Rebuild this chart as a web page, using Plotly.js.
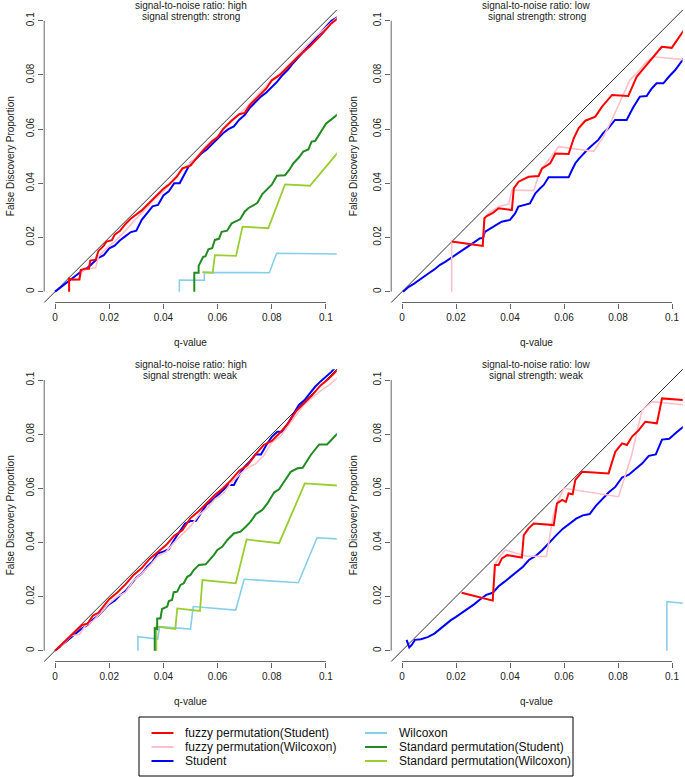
<!DOCTYPE html>
<html>
<head>
<meta charset="utf-8">
<script src="https://cdn.plot.ly/plotly-3.0.1.min.js"></script>
<style>html,body{margin:0;padding:0;background:#fff;}#chart{width:685px;height:777px;}</style>
</head>
<body>
<div id="chart"></div>
<script>
// ---------- data ----------
const seriesNames = ["fuzzy permutation(Student)", "fuzzy permutation(Wilcoxon)", "Student",
  "Wilcoxon", "Standard permutation(Student)", "Standard permutation(Wilcoxon)"];
const panelTitles1 = ["signal-to-noise ratio: high", "signal-to-noise ratio: low", "signal-to-noise ratio: high", "signal-to-noise ratio: low"];
const panelTitles2 = ["signal strength: strong", "signal strength: strong", "signal strength: weak", "signal strength: weak"];
const xTickVals = [0, 0.02, 0.04, 0.06, 0.08, 0.1];
const xTickText = ["0", "0.02", "0.04", "0.06", "0.08", "0.1"];
const yTickVals = [0, 0.02, 0.04, 0.06, 0.08, 0.1];
const yTickText = ["0", "0.02", "0.04", "0.06", "0.08", "0.1"];
const xTitle = "q-value";
const yTitle = "False Discovery Proportion";

// Panel 1: high SNR, strong signal
const p1RedX = [0.0052,0.0052,0.0062,0.0090,0.0095,0.0110,0.0125,0.0130,0.0150,0.0160,0.0180,0.0190,0.0210,0.0220,0.0240,0.0260,0.0280,0.0300,0.0320,0.0340,0.0360,0.0380,0.0400,0.0420,0.0450,0.0470,0.0500,0.0520,0.0550,0.0580,0.0600,0.0620,0.0650,0.0680,0.0700,0.0720,0.0750,0.0780,0.0800,0.0830,0.0860,0.0900,0.0940,0.0980,0.1020,0.1045];
const p1RedY = [0.0000,0.0048,0.0045,0.0045,0.0080,0.0085,0.0085,0.0115,0.0118,0.0150,0.0170,0.0185,0.0190,0.0210,0.0225,0.0250,0.0270,0.0285,0.0300,0.0320,0.0340,0.0360,0.0380,0.0395,0.0425,0.0455,0.0465,0.0490,0.0525,0.0555,0.0570,0.0600,0.0630,0.0655,0.0660,0.0690,0.0720,0.0750,0.0780,0.0800,0.0830,0.0870,0.0905,0.0945,0.0990,0.1010];
const p1PinkX = [0.0060,0.0090,0.0100,0.0120,0.0150,0.0160,0.0190,0.0220,0.0250,0.0280,0.0300,0.0330,0.0360,0.0400,0.0430,0.0460,0.0500,0.0530,0.0560,0.0600,0.0640,0.0680,0.0720,0.0760,0.0800,0.0840,0.0880,0.0920,0.0960,0.1000,0.1045];
const p1PinkY = [0.0040,0.0045,0.0075,0.0085,0.0088,0.0130,0.0160,0.0185,0.0215,0.0250,0.0270,0.0300,0.0335,0.0370,0.0405,0.0440,0.0475,0.0505,0.0540,0.0575,0.0615,0.0655,0.0695,0.0740,0.0780,0.0815,0.0855,0.0900,0.0940,0.0975,0.1015];
const p1BlueX = [0,0.002,0.004,0.006,0.008,0.010,0.012,0.014,0.016,0.018,0.020,0.022,0.024,0.026,0.028,0.030,0.032,0.034,0.036,0.038,0.040,0.042,0.044,0.046,0.048,0.050,0.052,0.054,0.056,0.058,0.060,0.062,0.064,0.066,0.068,0.070,0.072,0.074,0.076,0.078,0.080,0.082,0.084,0.086,0.088,0.090,0.092,0.094,0.096,0.098,0.100,0.102,0.1045];
const p1BlueY = [0,0.0016,0.0032,0.0046,0.0062,0.0077,0.0088,0.0108,0.0125,0.0135,0.0160,0.0170,0.0190,0.0205,0.0220,0.0225,0.0265,0.0290,0.0315,0.0320,0.0355,0.0370,0.0400,0.0400,0.0440,0.0475,0.0490,0.0510,0.0525,0.0545,0.0565,0.0585,0.0600,0.0610,0.0635,0.0652,0.0680,0.0700,0.0720,0.0735,0.0754,0.0775,0.0800,0.0820,0.0845,0.0867,0.0890,0.0915,0.0935,0.0955,0.0978,0.1000,0.1015];
const p1CyanX = [0.0459,0.0459,0.0551,0.0551,0.0791,0.0818,0.1045];
const p1CyanY = [0,0.0043,0.0042,0.0071,0.0070,0.0142,0.0139];
const p1GreenX = [0.0514,0.0514,0.0530,0.0530,0.0547,0.0555,0.0566,0.0580,0.0590,0.0605,0.0615,0.0635,0.0652,0.0670,0.0683,0.0700,0.0713,0.0735,0.0747,0.0765,0.0781,0.0800,0.0819,0.0849,0.0865,0.0880,0.0900,0.0916,0.0935,0.0947,0.0960,0.0980,0.1000,0.1045];
const p1GreenY = [0,0.0070,0.0070,0.0095,0.0129,0.0130,0.0156,0.0160,0.0191,0.0195,0.0221,0.0225,0.0252,0.0262,0.0267,0.0295,0.0308,0.0320,0.0328,0.0360,0.0375,0.0395,0.0428,0.0430,0.0450,0.0474,0.0495,0.0517,0.0525,0.0554,0.0556,0.0590,0.0620,0.0656];
const p1LimeX = [0.0544,0.0582,0.0590,0.0668,0.0692,0.0787,0.0849,0.0941,0.1045];
const p1LimeY = [0.0072,0.0070,0.0135,0.0132,0.0240,0.0234,0.0396,0.0391,0.0515];

// Panel 2: low SNR, strong signal
const p2RedX = [0.0184,0.0299,0.0305,0.0314,0.0338,0.0358,0.0407,0.0414,0.0432,0.0469,0.0506,0.0519,0.0549,0.0568,0.0617,0.0636,0.0654,0.0679,0.0716,0.0741,0.0778,0.0838,0.0869,0.0925,0.0962,0.0999,0.1045];
const p2RedY = [0.0185,0.0169,0.0271,0.0279,0.0292,0.0308,0.0301,0.0381,0.0406,0.0424,0.0427,0.0455,0.0474,0.0510,0.0508,0.0566,0.0603,0.0631,0.0646,0.0683,0.0726,0.0722,0.0793,0.0861,0.0904,0.0900,0.0966];
const p2PinkX = [0.0184,0.0184,0.0299,0.0307,0.0320,0.0358,0.0395,0.0407,0.0488,0.0512,0.0543,0.0580,0.0710,0.0746,0.0780,0.0815,0.0844,0.0869,0.0906,0.0931,0.1045];
const p2PinkY = [0,0.0185,0.0169,0.0271,0.0289,0.0314,0.0323,0.0375,0.0373,0.0449,0.0486,0.0535,0.0518,0.0572,0.0640,0.0720,0.0781,0.0806,0.0849,0.0867,0.0856];
const p2BlueX = [0.0004,0.0025,0.0045,0.0062,0.0080,0.0099,0.0120,0.0141,0.0160,0.0178,0.0196,0.0215,0.0234,0.0252,0.0270,0.0289,0.0300,0.0307,0.0322,0.0338,0.0354,0.0369,0.0385,0.0400,0.0419,0.0431,0.0474,0.0494,0.0510,0.0525,0.0543,0.0617,0.0630,0.0642,0.0655,0.0667,0.0683,0.0698,0.0712,0.0727,0.0745,0.0764,0.0789,0.0832,0.0856,0.0881,0.0906,0.0925,0.0943,0.0968,0.0990,0.1012,0.1045];
const p2BlueY = [0,0.0018,0.0030,0.0043,0.0055,0.0068,0.0082,0.0099,0.0110,0.0123,0.0136,0.0148,0.0160,0.0172,0.0185,0.0197,0.0197,0.0221,0.0230,0.0240,0.0250,0.0258,0.0262,0.0265,0.0289,0.0314,0.0326,0.0363,0.0380,0.0394,0.0422,0.0422,0.0450,0.0474,0.0490,0.0504,0.0520,0.0535,0.0548,0.0560,0.0585,0.0603,0.0634,0.0634,0.0680,0.0720,0.0722,0.0750,0.0769,0.0769,0.0795,0.0818,0.0863];

// Panel 3: high SNR, weak signal
const p3RedX = [0,0.004,0.008,0.010,0.012,0.014,0.016,0.018,0.020,0.023,0.026,0.029,0.032,0.035,0.038,0.041,0.044,0.047,0.050,0.053,0.056,0.059,0.062,0.065,0.068,0.071,0.074,0.077,0.080,0.083,0.086,0.089,0.092,0.095,0.098,0.101,0.1045];
const p3RedY = [0,0.0038,0.0075,0.0095,0.0100,0.0130,0.0140,0.0165,0.0190,0.0215,0.0245,0.0280,0.0305,0.0340,0.0365,0.0390,0.0425,0.0445,0.0490,0.0515,0.0545,0.0575,0.0600,0.0630,0.0665,0.0685,0.0725,0.0760,0.0775,0.0805,0.0840,0.0885,0.0915,0.0945,0.0980,0.1005,0.1040];
const p3PinkX = [0.002,0.006,0.009,0.011,0.014,0.017,0.020,0.023,0.026,0.029,0.032,0.035,0.038,0.041,0.044,0.047,0.050,0.053,0.056,0.059,0.062,0.065,0.068,0.071,0.074,0.077,0.080,0.083,0.086,0.089,0.092,0.095,0.098,0.101,0.1045];
const p3PinkY = [0.0015,0.0055,0.0060,0.0090,0.0110,0.0140,0.0175,0.0200,0.0215,0.0260,0.0285,0.0315,0.0350,0.0365,0.0400,0.0430,0.0460,0.0500,0.0525,0.0560,0.0580,0.0620,0.0650,0.0675,0.0690,0.0720,0.0770,0.0790,0.0830,0.0870,0.0910,0.0935,0.0960,0.0980,0.1010];
const p3BlueX = [0,0.004,0.008,0.010,0.012,0.014,0.016,0.018,0.020,0.022,0.024,0.026,0.028,0.030,0.032,0.034,0.036,0.038,0.040,0.042,0.044,0.046,0.048,0.050,0.052,0.054,0.056,0.058,0.060,0.062,0.064,0.066,0.068,0.070,0.072,0.074,0.076,0.078,0.080,0.082,0.084,0.086,0.088,0.090,0.092,0.094,0.096,0.098,0.100,0.102,0.1045];
const p3BlueY = [0,0.0032,0.0065,0.0083,0.0095,0.0115,0.0130,0.0150,0.0172,0.0185,0.0205,0.0220,0.0245,0.0270,0.0285,0.0310,0.0330,0.0360,0.0366,0.0375,0.0410,0.0440,0.0470,0.0479,0.0480,0.0510,0.0540,0.0555,0.0575,0.0595,0.0612,0.0612,0.0650,0.0680,0.0700,0.0725,0.0725,0.0760,0.0790,0.0809,0.0809,0.0840,0.0875,0.0908,0.0925,0.0950,0.0975,0.0995,0.1012,0.1030,0.1058];
const p3CyanX = [0.0306,0.0306,0.0379,0.0386,0.0500,0.0510,0.0667,0.0698,0.0898,0.0967,0.1045];
const p3CyanY = [0,0.0052,0.0043,0.0089,0.0080,0.0163,0.0150,0.0264,0.0251,0.0417,0.0413];
const p3GreenX = [0.0368,0.0368,0.0377,0.0377,0.0389,0.0395,0.0414,0.0420,0.0432,0.0438,0.0451,0.0463,0.0475,0.0488,0.0500,0.0512,0.0531,0.0556,0.0586,0.0599,0.0617,0.0636,0.0660,0.0685,0.0704,0.0722,0.0741,0.0765,0.0784,0.0809,0.0827,0.0846,0.0870,0.0895,0.0914,0.0944,0.0975,0.1004,0.1045];
const p3GreenY = [0,0.0083,0.0080,0.0119,0.0119,0.0154,0.0163,0.0183,0.0187,0.0216,0.0218,0.0243,0.0249,0.0273,0.0280,0.0298,0.0317,0.0319,0.0353,0.0372,0.0384,0.0409,0.0433,0.0440,0.0458,0.0477,0.0504,0.0520,0.0544,0.0585,0.0596,0.0627,0.0661,0.0674,0.0676,0.0723,0.0762,0.0762,0.0805];
const p3LimeX = [0.0374,0.0374,0.0444,0.0451,0.0535,0.0544,0.0667,0.0707,0.0827,0.0922,0.1045];
const p3LimeY = [0,0.0089,0.0080,0.0156,0.0147,0.0261,0.0249,0.0411,0.0397,0.0618,0.0610];

// Panel 4: low SNR, weak signal
const p4RedX = [0.0221,0.0336,0.0344,0.0358,0.0370,0.0389,0.0444,0.0451,0.0469,0.0488,0.0562,0.0574,0.0593,0.0607,0.0617,0.0632,0.0642,0.0667,0.0765,0.0790,0.0815,0.0833,0.0852,0.0877,0.0901,0.0944,0.0963,0.1045];
const p4RedY = [0.0214,0.0185,0.0317,0.0317,0.0341,0.0353,0.0344,0.0427,0.0452,0.0470,0.0464,0.0544,0.0557,0.0550,0.0581,0.0578,0.0631,0.0661,0.0655,0.0735,0.0766,0.0760,0.0791,0.0815,0.0846,0.0840,0.0932,0.0926];
const p4PinkX = [0.0221,0.0336,0.0346,0.0360,0.0383,0.0457,0.0535,0.0560,0.0580,0.0600,0.0802,0.0850,0.0889,0.0926,0.1045];
const p4PinkY = [0.0214,0.0185,0.0320,0.0345,0.0372,0.0350,0.0348,0.0500,0.0560,0.0600,0.0569,0.0720,0.0889,0.0920,0.0908];
const p4BlueX = [0.0017,0.0022,0.0027,0.0036,0.0048,0.0070,0.0095,0.0120,0.0140,0.0160,0.0180,0.0200,0.0222,0.0245,0.0268,0.0290,0.0312,0.0336,0.0358,0.0380,0.0402,0.0425,0.0448,0.0470,0.0495,0.0520,0.0545,0.0570,0.0595,0.0620,0.0645,0.0670,0.0695,0.0718,0.0742,0.0766,0.0790,0.0815,0.0840,0.0865,0.0890,0.0914,0.0940,0.0963,0.0990,0.1015,0.1045];
const p4BlueY = [0.0040,0.0025,0.0012,0.0021,0.0040,0.0042,0.0050,0.0063,0.0080,0.0098,0.0112,0.0125,0.0140,0.0155,0.0172,0.0190,0.0206,0.0214,0.0238,0.0255,0.0272,0.0290,0.0310,0.0335,0.0350,0.0372,0.0400,0.0425,0.0450,0.0470,0.0488,0.0500,0.0505,0.0535,0.0562,0.0585,0.0605,0.0640,0.0650,0.0670,0.0692,0.0720,0.0725,0.0780,0.0783,0.0805,0.0830];
const p4CyanX = [0.0981,0.0981,0.1045];
const p4CyanY = [0,0.0181,0.0175];

// ---------- styling ----------
const colors = {red: "#FF0000", pink: "#FFC0CB", blue: "#0000FF", cyan: "#87CEEB", green: "#228B22", lime: "#9ACD32"};
const widths = {red: 2, pink: 1.6, blue: 2, cyan: 1.6, green: 2, lime: 1.8};
const FONT = "Liberation Sans, Arial, Helvetica, sans-serif";

const panels = [
  {ax: "", series: {cyan: [p1CyanX, p1CyanY], lime: [p1LimeX, p1LimeY], green: [p1GreenX, p1GreenY], blue: [p1BlueX, p1BlueY], pink: [p1PinkX, p1PinkY], red: [p1RedX, p1RedY]}},
  {ax: "2", series: {blue: [p2BlueX, p2BlueY], pink: [p2PinkX, p2PinkY], red: [p2RedX, p2RedY]}},
  {ax: "3", series: {cyan: [p3CyanX, p3CyanY], lime: [p3LimeX, p3LimeY], green: [p3GreenX, p3GreenY], blue: [p3BlueX, p3BlueY], pink: [p3PinkX, p3PinkY], red: [p3RedX, p3RedY]}},
  {ax: "4", series: {cyan: [p4CyanX, p4CyanY], blue: [p4BlueX, p4BlueY], pink: [p4PinkX, p4PinkY], red: [p4RedX, p4RedY]}}
];

const W = 685, H = 777;
const colDom = [[44.2 / W, 336.8 / W], [391.2 / W, 682.8 / W]];
const rowDom = [[1 - 302.5 / H, 1 - 9.9 / H], [1 - 661.5 / H, 1 - 369.2 / H]];
const yTitleX = [10, 353];
const range = [-0.004, 0.104];

const traces = [];
const layout = {
  width: W, height: H,
  margin: {l: 0, r: 0, t: 0, b: 0},
  paper_bgcolor: "#ffffff", plot_bgcolor: "#ffffff",
  showlegend: false,
  font: {family: FONT, color: "#222", size: 10},
  shapes: [], annotations: []
};

panels.forEach((p, i) => {
  const col = i % 2, row = Math.floor(i / 2);
  const xa = "x" + p.ax, ya = "y" + p.ax;
  Object.keys(p.series).forEach(k => {
    traces.push({
      type: "scatter", mode: "lines",
      x: p.series[k][0], y: p.series[k][1],
      xaxis: xa, yaxis: ya,
      line: {color: colors[k], width: widths[k]},
      hoverinfo: "skip"
    });
  });
  const axCommon = {
    range: range, showgrid: false, zeroline: false, showline: false,
    ticks: "outside", ticklen: 5, tickwidth: 1, tickcolor: "#666",
    tickfont: {family: FONT, size: 10, color: "#222"}, fixedrange: true
  };
  layout["xaxis" + p.ax] = Object.assign({}, axCommon, {
    domain: colDom[col], anchor: ya, tickvals: xTickVals, ticktext: xTickText
  });
  layout["yaxis" + p.ax] = Object.assign({}, axCommon, {
    domain: rowDom[row], anchor: xa, tickvals: yTickVals, ticktext: yTickText, tickangle: -90
  });
  // diagonal reference line (y = x)
  layout.shapes.push({type: "line", xref: xa + " domain", yref: ya + " domain", x0: 0, y0: 0, x1: 1, y1: 1,
    line: {color: "#333", width: 1}, layer: "below"});
  // R-style axis lines spanning first to last tick
  layout.shapes.push({type: "line", xref: xa, yref: ya + " domain", x0: xTickVals[0], x1: xTickVals[xTickVals.length - 1], y0: 0, y1: 0,
    line: {color: "#666", width: 1}});
  layout.shapes.push({type: "line", xref: xa + " domain", yref: ya, x0: 0, x1: 0, y0: yTickVals[0], y1: yTickVals[yTickVals.length - 1],
    line: {color: "#666", width: 1}});
  // titles
  const cx = (colDom[col][0] + colDom[col][1]) / 2;
  const topPx = row === 0 ? 9.9 : 369.2;
  const botPx = row === 0 ? 302.5 : 661.5;
  layout.annotations.push({text: panelTitles1[i], xref: "paper", yref: "paper", x: cx, y: 1 - (topPx - 4.3) / H,
    xanchor: "center", yanchor: "middle", showarrow: false, font: {size: 10, color: "#222"}});
  layout.annotations.push({text: panelTitles2[i], xref: "paper", yref: "paper", x: cx, y: 1 - (topPx + 6.3) / H,
    xanchor: "center", yanchor: "middle", showarrow: false, font: {size: 10, color: "#222"}});
  layout.annotations.push({text: xTitle, xref: "paper", yref: "paper", x: cx, y: 1 - (botPx + 39.5) / H,
    xanchor: "center", yanchor: "middle", showarrow: false, font: {size: 10, color: "#222"}});
  layout.annotations.push({text: yTitle, xref: "paper", yref: "paper", x: yTitleX[col] / W,
    y: (rowDom[row][0] + rowDom[row][1]) / 2, textangle: -90,
    xanchor: "center", yanchor: "middle", showarrow: false, font: {size: 10, color: "#222"}});
});

// legend (drawn in a box, two columns, R-style)
const legendOrder = [["red", 0], ["pink", 1], ["blue", 2], ["cyan", 3], ["green", 4], ["lime", 5]];
layout.shapes.push({type: "rect", xref: "paper", yref: "paper", x0: 139 / W, x1: 573 / W, y0: 1 - 776 / H, y1: 1 - 717 / H,
  line: {color: "#000", width: 1}, fillcolor: "rgba(0,0,0,0)"});
const legColX = [[151.5, 173.5, 183], [365, 387, 397]];
const legRowY = [733, 747, 761];
legendOrder.forEach(([k, idx]) => {
  const c = Math.floor(idx / 3), r = idx % 3;
  layout.shapes.push({type: "line", xref: "paper", yref: "paper",
    x0: legColX[c][0] / W, x1: legColX[c][1] / W, y0: 1 - legRowY[r] / H, y1: 1 - legRowY[r] / H,
    line: {color: colors[k], width: 2}});
  layout.annotations.push({text: seriesNames[idx], xref: "paper", yref: "paper",
    x: legColX[c][2] / W, y: 1 - legRowY[r] / H, xanchor: "left", yanchor: "middle", showarrow: false,
    font: {size: 12, color: "#111"}});
});

Plotly.newPlot("chart", traces, layout, {staticPlot: true, displayModeBar: false});
</script>
</body>
</html>
